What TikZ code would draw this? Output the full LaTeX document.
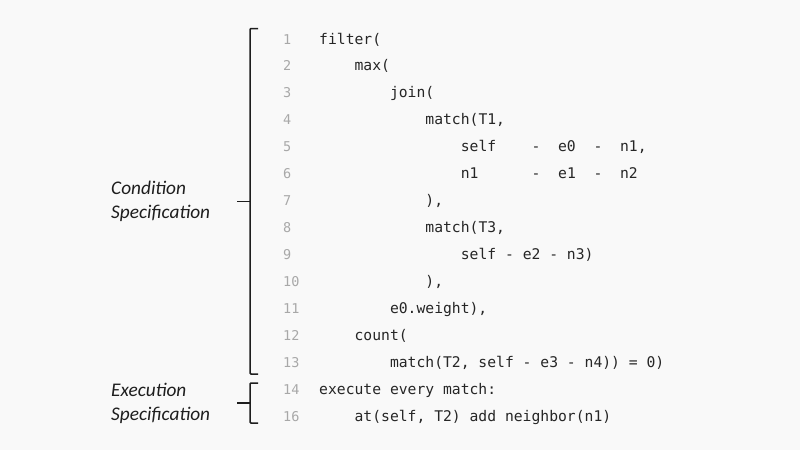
\documentclass[tikz,border=0pt]{standalone}
\usepackage{fontspec}
\setmainfont{Carlito}
\setmonofont{DejaVu Sans Mono}
\definecolor{bg}{HTML}{F9F9F9}
\definecolor{codec}{HTML}{262626}
\definecolor{numc}{HTML}{A8A8A8}
\definecolor{brc}{HTML}{1E1E1E}
\begin{document}
\begin{tikzpicture}[x=1pt,y=-1pt,
  code/.style={anchor=base west,inner sep=0pt,text=codec,font=\ttfamily\fontsize{14.7}{17}\selectfont},
  num/.style={anchor=base west,inner sep=0pt,text=numc,font=\ttfamily\fontsize{13.5}{16}\selectfont},
  lab/.style={anchor=west,inner sep=0pt,text=brc,align=left,font=\itshape\fontsize{19.3}{24}\selectfont},
  brace/.style={draw=brc,line width=1.5pt,rounded corners=1pt}]
\fill[bg] (0,0) rectangle (800,450);
\useasboundingbox (0,0) rectangle (800,450);
\def\cw{8.85}
\def\lh{26.95}
\def\xa{319}
% line numbers
\node[num] (n1) at (283,{39+0*\lh+5}) {1};
\node[num] (n2) at (283,{39+1*\lh+5}) {2};
\node[num] (n3) at (283,{39+2*\lh+5}) {3};
\node[num] (n4) at (283,{39+3*\lh+5}) {4};
\node[num] (n5) at (283,{39+4*\lh+5}) {5};
\node[num] (n6) at (283,{39+5*\lh+5}) {6};
\node[num] (n7) at (283,{39+6*\lh+5}) {7};
\node[num] (n8) at (283,{39+7*\lh+5}) {8};
\node[num] (n9) at (283,{39+8*\lh+5}) {9};
\node[num] (n10) at (283,{39+9*\lh+5}) {10};
\node[num] (n11) at (283,{39+10*\lh+5}) {11};
\node[num] (n12) at (283,{39+11*\lh+5}) {12};
\node[num] (n13) at (283,{39+12*\lh+5}) {13};
\node[num] (n14) at (283,{39+13*\lh+5}) {14};
\node[num] (n16) at (283,{39+14*\lh+5}) {16};
% code
\node[code] (c1) at ({\xa+0*\cw},{39+0*\lh+5}) {filter(};
\node[code] (c2) at ({\xa+4*\cw},{39+1*\lh+5}) {max(};
\node[code] (c3) at ({\xa+8*\cw},{39+2*\lh+5}) {join(};
\node[code] (c4) at ({\xa+12*\cw},{39+3*\lh+5}) {match(T1,};
\node[code] (c5) at ({\xa+16*\cw},{39+4*\lh+5}) {self\ \ \ \ -\ \ e0\ \ -\ \ n1,};
\node[code] (c6) at ({\xa+16*\cw},{39+5*\lh+5}) {n1\ \ \ \ \ \ -\ \ e1\ \ -\ \ n2};
\node[code] (c7) at ({\xa+12*\cw},{39+6*\lh+5}) {),};
\node[code] (c8) at ({\xa+12*\cw},{39+7*\lh+5}) {match(T3,};
\node[code] (c9) at ({\xa+16*\cw},{39+8*\lh+5}) {self\ -\ e2\ -\ n3)};
\node[code] (c10) at ({\xa+12*\cw},{39+9*\lh+5}) {),};
\node[code] (c11) at ({\xa+8*\cw},{39+10*\lh+5}) {e0.weight),};
\node[code] (c12) at ({\xa+4*\cw},{39+11*\lh+5}) {count(};
\node[code] (c13) at ({\xa+8*\cw},{39+12*\lh+5}) {match(T2,\ self\ -\ e3\ -\ n4))\ =\ 0)};
\node[code] (c14) at ({\xa+0*\cw},{39+13*\lh+5}) {execute\ every\ match:};
\node[code] (c16) at ({\xa+4*\cw},{39+14*\lh+5}) {at(self,\ T2)\ add\ neighbor(n1)};
% labels
\node[lab] (cond) at (111,201) {Condition\\Specification};
\node[lab] (exec) at (111,403) {Execution\\Specification};
% braces
\draw[brace] (258,28.5) -- (250,28.5) -- (250,374) -- (258,374);
\draw[brace] (237,201.5) -- (250,201.5);
\draw[brace] (258,383) -- (250,383) -- (250,423) -- (258,423);
\draw[brace] (237,403) -- (250,403);
\end{tikzpicture}
\end{document}
